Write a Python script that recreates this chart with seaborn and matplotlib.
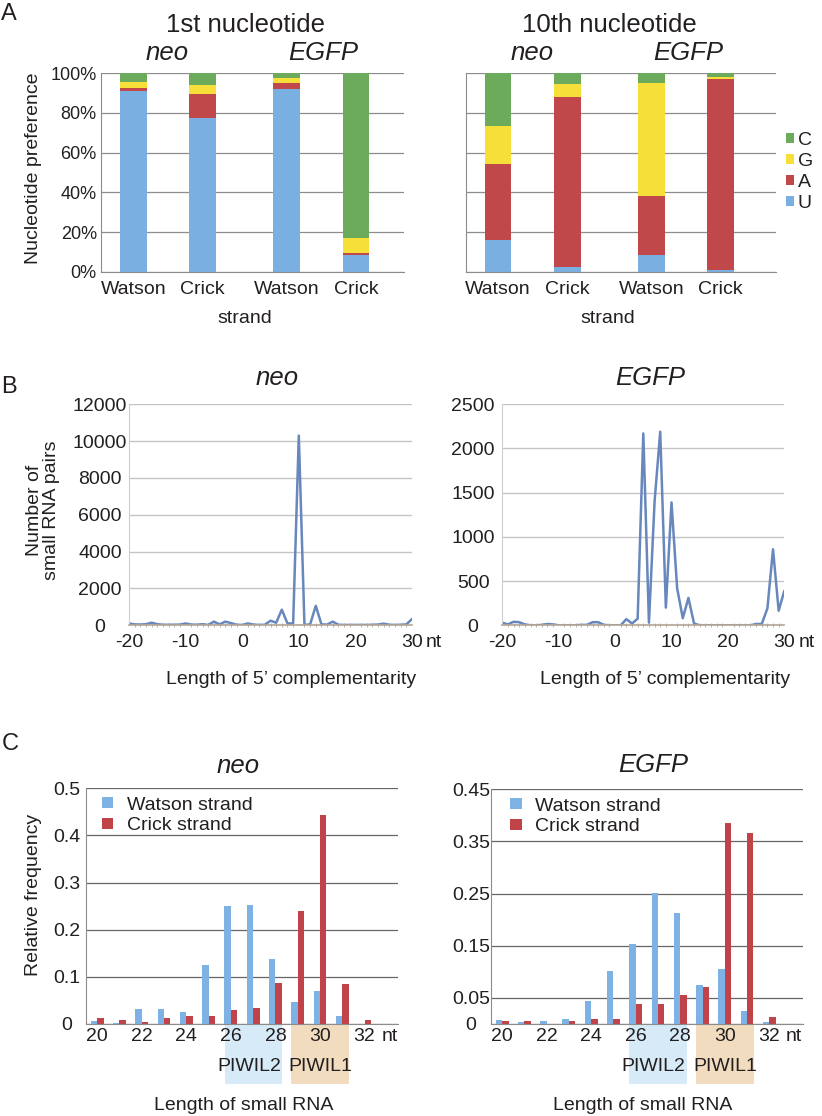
import numpy as np
import pandas as pd
import matplotlib.pyplot as plt
import seaborn as sns
from matplotlib.patches import Patch, Rectangle
from matplotlib.transforms import blended_transform_factory

sns.set_style("white")
plt.rcParams["font.family"] = ["Liberation Sans", "DejaVu Sans"]
TXT = "#231f20"
plt.rcParams["text.color"] = TXT

# ---- A: nucleotide preference (%), bars: neo Watson, neo Crick, EGFP Watson, EGFP Crick
strand_names = ["Watson", "Crick", "Watson", "Crick"]
nt_names = ["U", "A", "G", "C"]
first_U = [91.3, 77.5, 92.1, 8.2]
first_A = [1.1, 12.1, 3.0, 1.2]
first_G = [3.2, 4.4, 2.4, 7.6]
first_C = [4.4, 6.0, 2.5, 83.0]
tenth_U = [16.1, 2.5, 8.2, 0.7]
tenth_A = [38.2, 85.4, 30.1, 96.6]
tenth_G = [19.1, 6.6, 56.8, 1.0]
tenth_C = [26.6, 5.5, 4.9, 1.7]

# ---- B: number of small RNA pairs vs length of 5' complementarity
comp_len = list(range(-20, 31))
neo_pairs = [100, 50, 40, 60, 140, 60, 30, 30, 30, 40,
             100, 40, 30, 60, 20, 200, 50, 200, 120, 30,
             20, 100, 40, 20, 30, 250, 140, 850, 100, 100,
             10300, 20, 50, 1060, 50, 40, 200, 30, 20, 20,
             20, 20, 20, 30, 40, 90, 30, 20, 30, 50,
             340]
egfp_pairs = [30, 10, 40, 35, 10, 0, 0, 5, 15, 10,
              0, 0, 0, 0, 5, 5, 35, 35, 5, 0,
              0, 0, 70, 20, 75, 2170, 30, 1400, 2190, 200,
              1390, 420, 80, 310, 20, 0, 0, 0, 0, 0,
              0, 0, 0, 0, 0, 15, 15, 190, 860, 165,
              390]

# ---- C: relative frequency by small RNA length
rna_len = list(range(20, 34))
neo_watson = [0.006, 0.002, 0.031, 0.031, 0.025, 0.125, 0.250, 0.252, 0.137, 0.047, 0.069, 0.018, 0.0, 0.0]
neo_crick = [0.012, 0.008, 0.004, 0.012, 0.016, 0.016, 0.030, 0.033, 0.088, 0.240, 0.443, 0.084, 0.008, 0.0]
egfp_watson = [0.008, 0.003, 0.006, 0.010, 0.045, 0.102, 0.153, 0.251, 0.212, 0.075, 0.105, 0.024, 0.003, 0.0]
egfp_crick = [0.005, 0.005, 0.0, 0.005, 0.009, 0.009, 0.038, 0.038, 0.056, 0.070, 0.385, 0.366, 0.013, 0.0]

nt_colors = ["#7aafe1", "#c0474a", "#f7df3a", "#6cab5c"]
line_col = "#6787bd"
c_blue, c_red = "#7eb2e4", "#c0434a"

W, H = 822, 1116
fig = plt.figure(figsize=(W / 100, H / 100), dpi=100)


def px_axes(x0, x1, ytop, ybot):
    return fig.add_axes([x0 / W, 1 - ybot / H, (x1 - x0) / W, (ybot - ytop) / H])


def ftext(x, y, s, size=14, va="baseline", **kw):
    fig.text(x / W, 1 - y / H, s, ha="center", va=va, fontsize=size, color=TXT, **kw)


# ================= A =================
bar_pos = [0, 1, 2.22, 3.22]
axA1 = px_axes(101, 404, 73.3, 271.7)
axA2 = px_axes(465.7, 776, 73.3, 271.7)
for ax, parts, xl in [(axA1, [first_U, first_A, first_G, first_C], (-0.47, 3.915)),
                      (axA2, [tenth_U, tenth_A, tenth_G, tenth_C], (-0.467, 4.02))]:
    cum = np.cumsum(np.array(parts), axis=0)
    for k in range(3, -1, -1):
        sns.barplot(x=bar_pos, y=cum[k], native_scale=True, color=nt_colors[k], width=0.39,
                    saturation=1, errorbar=None, linewidth=0, ax=ax)
    ax.set_xlim(*xl)
    ax.set_ylim(0, 100)
    ax.set_xticks(bar_pos, strand_names)
    ax.grid(axis="y", color="#8c8c8c", lw=0.9)
    ax.set_axisbelow(True)
    for s in ["top", "right"]:
        ax.spines[s].set_visible(False)
    for s in ["left", "bottom"]:
        ax.spines[s].set_color("#8c8c8c")
    ax.tick_params(axis="x", length=0, pad=7, labelsize=14, labelcolor=TXT)
    ax.tick_params(axis="y", length=0, pad=3, labelsize=13, labelcolor=TXT)
    ax.set_xlabel("")
    ax.set_ylabel("")
axA1.set_yticks(range(0, 101, 20), [f"{v}%" for v in range(0, 101, 20)])
axA2.set_yticks(range(0, 101, 20), [""] * 6)

ftext(9, 20, "A", size=17)
ftext(245, 31.7, "1st nucleotide", size=18.5)
ftext(167, 60, "neo", size=18.5, style="italic")
ftext(323, 60, "EGFP", size=18.5, style="italic")
ftext(609, 31.7, "10th nucleotide", size=18.5)
ftext(532, 60, "neo", size=18.5, style="italic")
ftext(688, 60, "EGFP", size=18.5, style="italic")
ftext(245, 323, "strand")
ftext(608, 323, "strand")
ftext(33, 168, "Nucleotide preference", va="center", rotation=90)

handles = [Patch(facecolor=nt_colors[k], edgecolor="none", label=nt_names[k]) for k in range(3, -1, -1)]
fig.legend(handles=handles, loc="center left", bbox_to_anchor=(786 / W, 1 - 172 / H), frameon=False,
           fontsize=14, handlelength=0.4, handleheight=0.4, handletextpad=0.2, labelspacing=0.2,
           borderpad=0, borderaxespad=0)

# ================= B =================
axB1 = px_axes(129, 412, 404.3, 625.3)
axB2 = px_axes(502.3, 784.3, 404.3, 625.3)
for ax, vals, ymax, step in [(axB1, neo_pairs, 12000, 2000), (axB2, egfp_pairs, 2500, 500)]:
    sns.lineplot(x=comp_len, y=vals, color=line_col, lw=1.8, ax=ax)
    ax.set_xlim(-20, 30)
    ax.set_ylim(0, ymax)
    ax.set_yticks(range(0, ymax + 1, step), [str(v) for v in range(0, ymax + 1, step)], ha="center")
    ax.set_xticks(range(-20, 31, 10), ["-20", "-10", "0", "10", "20", "30"])
    ax.set_xticks(comp_len, minor=True)
    ax.grid(axis="y", color="#c4c4c4", lw=1)
    ax.set_axisbelow(True)
    for s in ["top", "right"]:
        ax.spines[s].set_visible(False)
    ax.spines["left"].set_color("#cfcfcf")
    ax.spines["bottom"].set_color("#b4a696")
    ax.spines["bottom"].set_linewidth(1.2)
    ax.tick_params(axis="y", length=0, pad=21, labelsize=14, labelcolor=TXT)
    ax.tick_params(axis="x", which="major", length=0, pad=6, labelsize=14, labelcolor=TXT)
    ax.tick_params(axis="x", which="minor", length=3, direction="inout", color="#b4a696", bottom=True)
    ax.annotate("nt", xy=(30, 0), xycoords=("data", "axes fraction"), xytext=(10, -6),
                textcoords="offset points", ha="left", va="top", fontsize=14, color=TXT)
    ax.set_xlabel("")
    ax.set_ylabel("")

ftext(9, 393, "B", size=17)
ftext(277, 385, "neo", size=18.5, style="italic")
ftext(650, 385, "EGFP", size=18.5, style="italic")
ftext(42.5, 510, "Number of\nsmall RNA pairs", va="center", rotation=90, linespacing=1.0)
ftext(291, 684, "Length of 5\u2019 complementarity")
ftext(665, 684, "Length of 5\u2019 complementarity")

# ================= C =================
axC1 = px_axes(86, 398, 788.3, 1024)
axC2 = px_axes(491, 802.7, 789.3, 1024)
c_specs = [(axC1, neo_watson, neo_crick, 0.5, [0, 0.1, 0.2, 0.3, 0.4, 0.5], ["0", "0.1", "0.2", "0.3", "0.4", "0.5"], 14, 0.05),
           (axC2, egfp_watson, egfp_crick, 0.45, [0, 0.05, 0.15, 0.25, 0.35, 0.45], ["0", "0.05", "0.15", "0.25", "0.35", "0.45"], 14.5, 0.061)]
for ax, wat, cri, ymax, yt, ytl, ypad, lx in c_specs:
    df = pd.DataFrame({"length": rna_len * 2, "freq": wat + cri,
                       "strand": ["Watson strand"] * len(rna_len) + ["Crick strand"] * len(rna_len)})
    sns.barplot(data=df, x="length", y="freq", hue="strand", order=rna_len,
                hue_order=["Watson strand", "Crick strand"], palette=[c_blue, c_red],
                width=0.58, gap=0, saturation=1, errorbar=None, linewidth=0, ax=ax)
    ax.set_xlim(-0.5, len(rna_len) - 0.5)
    ax.set_ylim(0, ymax)
    ax.set_yticks(yt, ytl, ha="center")
    ax.set_xticks(range(0, 13, 2), [str(v) for v in rna_len[0:13:2]])
    ax.grid(axis="y", color="#666666", lw=0.9)
    ax.set_axisbelow(True)
    for s in ["top", "right"]:
        ax.spines[s].set_visible(False)
    for s in ["left", "bottom"]:
        ax.spines[s].set_color("#8c8c8c")
    ax.tick_params(axis="y", length=0, pad=ypad, labelsize=14, labelcolor=TXT)
    ax.tick_params(axis="x", length=0, pad=3, labelsize=14, labelcolor=TXT)
    ax.annotate("nt", xy=(12, 0), xycoords=("data", "axes fraction"), xytext=(12, -3),
                textcoords="offset points", ha="left", va="top", fontsize=14, color=TXT)
    ax.set_xlabel("")
    ax.set_ylabel("")
    hnd = [Patch(facecolor=c_blue, edgecolor="none"), Patch(facecolor=c_red, edgecolor="none")]
    ax.legend(hnd, ["Watson strand", "Crick strand"], loc="upper left", bbox_to_anchor=(lx, 0.965),
              frameon=False, fontsize=14, handlelength=0.6, handleheight=0.5, handletextpad=0.7,
              labelspacing=0.2, borderpad=0, borderaxespad=0)
    tr = blended_transform_factory(ax.transData, ax.transAxes)
    for x0, x1, col, name, tx in [(5.72, 8.3, "#d6eaf7", "PIWIL2", 6.81), (8.72, 11.3, "#f2dcc0", "PIWIL1", 10.02)]:
        ax.add_patch(Rectangle((x0, -0.255), x1 - x0, 0.255, transform=tr, facecolor=col,
                               edgecolor="none", clip_on=False, zorder=0))
        ax.text(tx, -0.2, name, transform=tr, ha="center", va="baseline", fontsize=14, color=TXT)

ftext(10, 750, "C", size=17)
ftext(238, 773.3, "neo", size=18.5, style="italic")
ftext(653, 771.7, "EGFP", size=18.5, style="italic")
ftext(33, 895, "Relative frequency", va="center", rotation=90)
ftext(244, 1110, "Length of small RNA")
ftext(642.5, 1110, "Length of small RNA")

fig.savefig("out.png", dpi=100)
